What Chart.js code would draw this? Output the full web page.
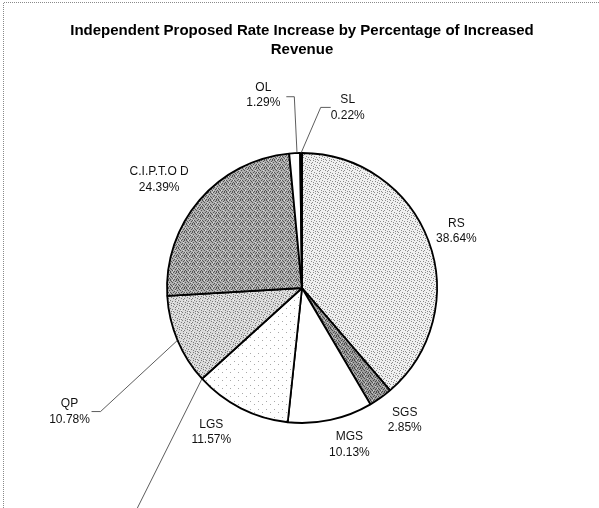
<!DOCTYPE html>
<html><head><meta charset="utf-8">
<script src="https://cdn.jsdelivr.net/npm/chart.js@4/dist/chart.umd.min.js"></script>
<style>html,body{margin:0;padding:0;background:#fff;}canvas{display:block;}</style>
</head><body>
<canvas id="c" width="599" height="508"></canvas>
<script>
// ---- data ----
const categories = ['RS', 'SGS', 'MGS', 'LGS', 'QP', 'C.I.P.T.O D', 'OL', 'SL'];
const percentValues = [38.64, 2.85, 10.13, 11.57, 10.78, 24.39, 1.29, 0.22];
const percentLabels = ['38.64%', '2.85%', '10.13%', '11.57%', '10.78%', '24.39%', '1.29%', '0.22%'];
const titleLines = ['Independent Proposed Rate Increase by Percentage of Increased', 'Revenue'];

// ---- styling ----
const FONT = "'Liberation Sans', Arial, Helvetica, sans-serif";
const scatterA = [[1,0],[6,0],[3,1],[0,2],[5,2],[7,3],[2,4],[4,5],[7,5],[1,6],[5,7],[3,7]];
const scatterB = [[0,0],[2,0],[5,0],[3,1],[7,1],[1,2],[4,2],[6,3],[0,4],[2,4],[5,4],[3,5],[7,5],[1,6],[4,6],[6,7],[2,7],[0,7]];
const scatterC = [[2,1],[6,4]];
function makePattern(bg, fg, cells, light) {
  const c = document.createElement('canvas');
  c.width = 8; c.height = 8;
  const x = c.getContext('2d');
  x.fillStyle = bg; x.fillRect(0, 0, 8, 8);
  x.fillStyle = fg;
  cells.forEach(p => x.fillRect(p[0], p[1], 1, 1));
  if (light) {
    x.fillStyle = light;
    [[4,0],[7,2],[1,4],[5,6]].forEach(p => x.fillRect(p[0], p[1], 1, 1));
  }
  return x.createPattern(c, 'repeat');
}
const fills = [
  makePattern('#f0f0f0', '#8c8c8c', scatterA, null),        // RS
  makePattern('#9c9c9c', '#4a4a4a', scatterB, '#d0d0d0'),   // SGS
  '#ffffff',                                                // MGS
  makePattern('#ffffff', '#a8a8a8', scatterC, null),        // LGS
  makePattern('#dadada', '#7c7c7c', scatterA, '#f4f4f4'),   // QP
  makePattern('#b0b0b0', '#555555', scatterB, '#dcdcdc'),   // CIPTOD
  '#ffffff',                                                // OL
  '#000000'                                                 // SL
];
// label placement relative to each slice: angle offset (deg) from mid-angle, radius factor
const labelPlace = [
  {da: 0, rf: 1.22},
  {da: -2.3, rf: 1.24},
  {da: -4.7, rf: 1.21},
  {da: 5.3, rf: 1.26},
  {da: -5.2, rf: 1.95, leader: {sx: 22, sy: 0, ex: 9, edgeDa: 0}},
  {da: -3.3, rf: 1.33},
  {da: -8.2, rf: 1.46, leader: {sx: 23, sy: 2, ex: 8, edgeDa: 1}},
  {da: 14.6, rf: 1.38, leader: {sx: -17, sy: 0, ex: -10, edgeDa: 0}}
];

const framePlugin = {
  id: 'frame',
  beforeDraw(chart) {
    const ctx = chart.ctx;
    ctx.save();
    ctx.fillStyle = '#fff';
    ctx.fillRect(0, 0, chart.width, chart.height);
    ctx.strokeStyle = '#8a8a8a';
    ctx.lineWidth = 1;
    ctx.setLineDash([1, 1]);
    ctx.beginPath();
    ctx.moveTo(3.5, chart.height); ctx.lineTo(3.5, 2.5); ctx.lineTo(chart.width, 2.5);
    ctx.stroke();
    ctx.restore();
  }
};

const labelPlugin = {
  id: 'sliceLabels',
  afterDatasetsDraw(chart) {
    const ctx = chart.ctx;
    const meta = chart.getDatasetMeta(0);
    ctx.save();
    ctx.font = '12px ' + FONT;
    ctx.textAlign = 'center';
    ctx.textBaseline = 'middle';
    meta.data.forEach((arc, i) => {
      const p = arc.getProps(['x', 'y', 'startAngle', 'endAngle', 'outerRadius']);
      const mid = (p.startAngle + p.endAngle) / 2;
      const pl = labelPlace[i];
      const a = mid + pl.da * Math.PI / 180;
      const lx = p.x + Math.cos(a) * p.outerRadius * pl.rf;
      const ly = p.y + Math.sin(a) * p.outerRadius * pl.rf;
      ctx.fillStyle = '#111';
      ctx.fillText(categories[i], lx, ly - 7.5);
      ctx.fillText(percentLabels[i], lx, ly + 8);
      if (pl.leader) {
        const L = pl.leader;
        const ea = mid + L.edgeDa * Math.PI / 180;
        const x0 = lx + L.sx, y0 = ly + L.sy;
        ctx.strokeStyle = '#333';
        ctx.lineWidth = 0.8;
        ctx.beginPath();
        ctx.moveTo(x0, y0);
        ctx.lineTo(x0 + L.ex, y0);
        ctx.lineTo(p.x + Math.cos(ea) * p.outerRadius, p.y + Math.sin(ea) * p.outerRadius);
        ctx.stroke();
      }
    });
    // leader line toward a label outside the picture, from the LGS/QP boundary
    const lgs = meta.data[3].getProps(['x', 'y', 'endAngle', 'outerRadius']);
    const bx = lgs.x + Math.cos(lgs.endAngle) * lgs.outerRadius;
    const by = lgs.y + Math.sin(lgs.endAngle) * lgs.outerRadius;
    ctx.strokeStyle = '#333';
    ctx.lineWidth = 0.8;
    ctx.beginPath();
    ctx.moveTo(bx, by);
    ctx.lineTo(bx - 80, by + 160);
    ctx.stroke();
    ctx.restore();
  }
};

new Chart(document.getElementById('c'), {
  type: 'pie',
  data: {
    labels: categories,
    datasets: [{
      data: percentValues,
      backgroundColor: fills,
      borderColor: '#000',
      borderWidth: 1.8,
      borderAlign: 'center'
    }]
  },
  options: {
    responsive: false,
    animation: false,
    radius: 135,
    layout: {padding: {left: 5, right: 0, top: 0, bottom: 11}},
    plugins: {
      legend: {display: false},
      tooltip: {enabled: false},
      title: {
        display: true,
        text: titleLines,
        color: '#000',
        font: {family: FONT, size: 15, weight: 'bold', lineHeight: 1.25},
        padding: {top: 21.5, bottom: 20}
      }
    }
  },
  plugins: [framePlugin, labelPlugin]
});
</script>
</body></html>
